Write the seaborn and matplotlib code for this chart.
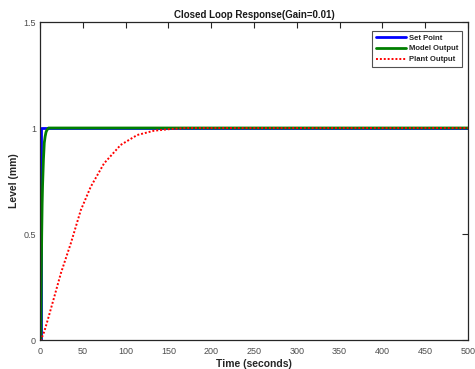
import matplotlib
matplotlib.use("Agg")
import matplotlib.pyplot as plt
import seaborn as sns
import pandas as pd

# Set point
sp_t = [0, 1, 1, 500]
sp_y = [0, 0, 1, 1]

# Model output
mo_t = [0, 1, 1.5, 2, 2.5, 3, 4, 5, 6, 7, 8, 9, 10, 500]
mo_y = [0, 0, 0.30, 0.50, 0.64, 0.73, 0.85, 0.93, 0.96, 0.98, 0.99, 0.995, 1.0, 1.0]

# Plant output
po_t = [0, 1, 5, 9, 16.7, 24.4, 36, 47.7, 59.3, 74.8, 94.2, 113.6, 133, 152, 170, 500]
po_y = [0, 0, 0.04, 0.094, 0.204, 0.315, 0.456, 0.613, 0.723, 0.833, 0.92, 0.967, 0.987, 0.995, 1.0, 1.0]

xticks = list(range(0, 501, 50))
yticks = [0, 0.5, 1, 1.5]
ytick_labels = ["0", "0.5", "1", "1.5"]

sns.set_style("white")
plt.rcParams['font.family'] = ['Liberation Sans', 'DejaVu Sans']

fig = plt.figure(figsize=(4.75, 3.69), dpi=100)
ax = fig.add_axes([40/475, 29/369, 428/475, 318/369])

sns.lineplot(x=sp_t, y=sp_y, ax=ax, color="#0000ff", linewidth=2, label="Set Point", sort=False, estimator=None)
sns.lineplot(x=mo_t, y=mo_y, ax=ax, color="#007f00", linewidth=2, label="Model Output", sort=False, estimator=None)
sns.lineplot(x=po_t, y=po_y, ax=ax, color="#ff0000", linewidth=1.4, linestyle=(0, (1, 1)), label="Plant Output", sort=False, estimator=None)

ax.set_xlim(0, 500)
ax.set_ylim(0, 1.5)
ax.set_xticks(xticks)
ax.set_yticks(yticks)
ax.set_yticklabels(ytick_labels)
ax.tick_params(direction="in", length=4, width=0.8, top=True, right=True,
               labelsize=6.5, labelcolor="#4d4d4d", color="#262626")
ax.tick_params(axis="y", pad=3)
ax.tick_params(axis="x", pad=5)
for s in ax.spines.values():
    s.set_visible(True)
    s.set_color("#262626")
    s.set_linewidth(0.9)

ax.set_xlabel("Time (seconds)", fontsize=7.5, fontweight="bold", color="#262626", labelpad=2)
ax.set_ylabel("Level (mm)", fontsize=7.5, fontweight="bold", color="#262626", labelpad=3)
ax.set_title("Closed Loop Response(Gain=0.01)", fontsize=7, fontweight="bold", color="#1a1a1a", pad=3)

leg = ax.legend(loc="upper right", prop={"weight": "bold", "size": 5.5},
                frameon=True, fancybox=False, edgecolor="#262626", handlelength=4.0,
                handletextpad=0.4, borderpad=0.45, labelspacing=0.45, borderaxespad=0,
                bbox_to_anchor=(0.986, 0.972))
leg.get_frame().set_linewidth(0.8)

fig.savefig("out.png", dpi=100)
